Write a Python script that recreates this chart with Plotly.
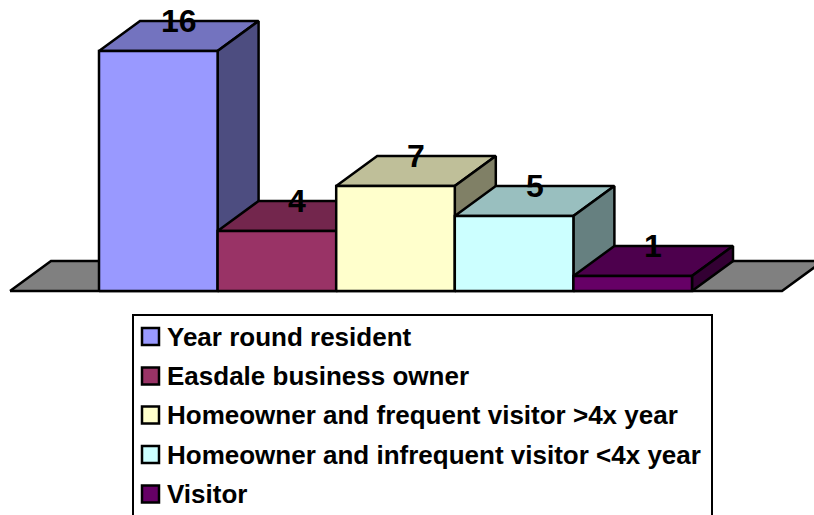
import plotly.graph_objects as go

categories = ["Year round resident", "Easdale business owner",
              "Homeowner and frequent visitor >4x year",
              "Homeowner and infrequent visitor <4x year", "Visitor"]
values = [16, 4, 7, 5, 1]
front_colors = ["#9999FF", "#993366", "#FFFFCC", "#CCFFFF", "#660066"]
top_colors = ["#7373BF", "#73264D", "#BFBF99", "#99BFBF", "#4D004D"]
side_colors = ["#4D4D80", "#4D1A33", "#808066", "#668080", "#330033"]

W, H = 814, 515
X0, BAR_W = 99.0, 118.6
BASE_PX, UNIT_PX = 291.0, 15.0
DX, DY = 41 / BAR_W, 2.0          # depth of the 3D box in axis units
FONT = "Liberation Sans, Arial, sans-serif"

fig = go.Figure()


def poly(xs, ys, color, width=2.5):
    fig.add_trace(go.Scatter(x=xs + xs[:1], y=ys + ys[:1], mode="lines", fill="toself",
                             fillcolor=color, line=dict(color="black", width=width),
                             hoverinfo="skip", showlegend=False))


# floor
fl, fr = (10 - X0) / BAR_W, (782 - X0) / BAR_W
poly([fl, fr, fr + DX, fl + DX], [0, 0, DY, DY], "#808080")

# boxes, back to front
for i, v in enumerate(values):
    a, b = i, i + 1
    poly([a, a + DX, b + DX, b], [v, v + DY, v + DY, v], top_colors[i])
    poly([b, b + DX, b + DX, b], [0, DY, v + DY, v], side_colors[i])
    poly([a, b, b, a], [0, 0, v, v], front_colors[i])
    fig.add_annotation(x=i + 0.5 + DX / 2, y=v + DY, text=f"<b>{v}</b>", showarrow=False,
                       xanchor="center", yanchor="middle",
                       font=dict(family=FONT, size=32, color="black"))

# legend, built in page coordinates
shapes = [dict(type="rect", xref="paper", yref="paper", x0=133 / W, x1=712 / W,
               y0=1 - 540 / H, y1=1 - 315 / H, line=dict(color="black", width=2),
               fillcolor="white", layer="above")]
rows = [336.5, 376, 415, 454.5, 494]
for name, color, r in zip(categories, front_colors, rows):
    shapes.append(dict(type="rect", xref="paper", yref="paper", x0=142 / W, x1=159 / W,
                       y0=1 - (r + 8.5) / H, y1=1 - (r - 8.5) / H,
                       line=dict(color="black", width=2.5), fillcolor=color, layer="above"))
    fig.add_annotation(xref="paper", yref="paper", x=165 / W, y=1 - r / H, text=f"<b>{name.replace('<', '&lt;')}</b>",
                       showarrow=False, xanchor="left", yanchor="middle",
                       font=dict(family=FONT, size=26, color="black"))

fig.update_layout(
    width=W, height=H, margin=dict(l=0, r=0, t=0, b=0),
    paper_bgcolor="white", plot_bgcolor="white", shapes=shapes, showlegend=False,
    xaxis=dict(range=[-X0 / BAR_W, (W - X0) / BAR_W], visible=False, fixedrange=True),
    yaxis=dict(range=[(BASE_PX - H) / UNIT_PX, BASE_PX / UNIT_PX], visible=False, fixedrange=True),
)
fig.write_html("out.html", post_script="document.body.style.margin='0';",
               config={"displayModeBar": False})
